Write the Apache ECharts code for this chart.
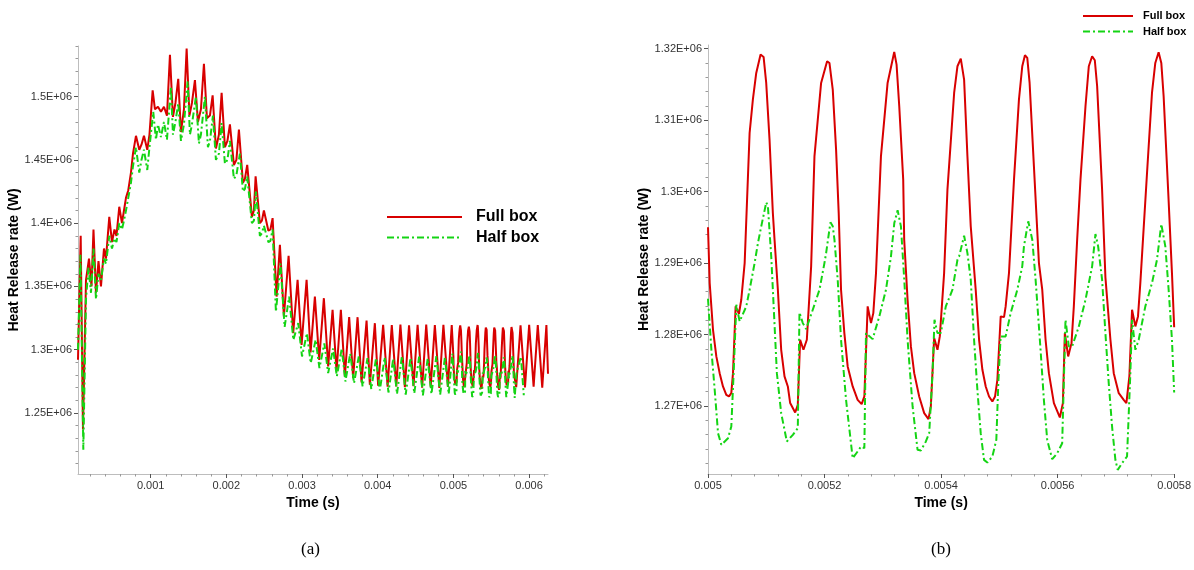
<!DOCTYPE html>
<html><head><meta charset="utf-8">
<script src="https://cdn.jsdelivr.net/npm/echarts@6/dist/echarts.min.js"></script>
<style>html,body{margin:0;padding:0;background:#fff}#c{width:1194px;height:570px}</style>
</head><body><div id="c"></div>
<script>
// ---------- DATA ----------
// Panel (a) early part, t < 0.005 s
const tA_full = [0.0000399,0.0000755,0.0001059,0.0001455,0.0001852,0.0002182,0.0002446,0.0002776,0.0003106,0.0003436,0.0003833,0.0004097,0.0004533,0.0004889,0.0005219,0.0005483,0.0005853,0.000621,0.0006474,0.0006738,0.0007042,0.0007398,0.0007663,0.0008059,0.0008495,0.0008785,0.0009115,0.0009551,0.0009842,0.0010264,0.0010568,0.0010964,0.001136,0.0011757,0.0012153,0.0012549,0.0012945,0.0013275,0.0013645,0.0014002,0.0014398,0.0014754,0.0015124,0.0015454,0.001585,0.0016247,0.0016643,0.0017039,0.0017435,0.0017832,0.0018188,0.0018624,0.001902,0.0019377,0.0019813,0.0020143,0.0020473,0.0021001,0.0021331,0.0021662,0.002219,0.0022454,0.0022758,0.0023378,0.0023642,0.0023867,0.0024435,0.0024699,0.0024963,0.0025557,0.0025822,0.0026112,0.002664,0.0027077,0.0027604,0.0028225,0.0028833,0.0029414,0.0029942,0.0030603,0.0031131,0.0031699,0.0032267,0.0032886,0.0033455,0.0034036,0.0034564,0.0035132,0.0035661,0.0036229,0.0036757,0.0037338,0.0037866,0.0038527,0.0038962,0.0039623,0.0040058,0.0040718,0.004131,0.004186,0.004245,0.0043,0.004359,0.004414,0.004473,0.004527,0.004587,0.004641,0.0047,0.004755,0.004814,0.004868,0.004928,0.004978];
const hA_full = [1292000,1390000,1237000,1355000,1372000,1350000,1395000,1345000,1370000,1350000,1380000,1372000,1405000,1385000,1395000,1390000,1413000,1400000,1410000,1420000,1426000,1440000,1455000,1469000,1458000,1462000,1469000,1458000,1470000,1505000,1490000,1492000,1488000,1492000,1485000,1533000,1484000,1495000,1514000,1472000,1490000,1538000,1485000,1495000,1513000,1480000,1490000,1526000,1483000,1485000,1501000,1459000,1470000,1503000,1460000,1465000,1478000,1446000,1450000,1474000,1432000,1435000,1446000,1405000,1410000,1437000,1400000,1402000,1410000,1394000,1395000,1404000,1342000,1382850,1326240,1374160,1313080,1355200,1303860,1355200,1297800,1342040,1292000,1340720,1286750,1331500,1282800,1331500,1278850,1325710,1277530,1325710,1274110,1323080,1272270,1320970,1271480,1319660,1270800,1319500,1271000,1319800,1270500,1319300,1271200,1319600,1270000,1319800,1270800,1319400,1269800,1319700,1270600,1319500];
const tA_half = [0.0000399,0.0000725,0.0001103,0.0001455,0.0001786,0.0002116,0.0002446,0.0002776,0.0003106,0.0003436,0.0003833,0.0004097,0.0004533,0.0004889,0.0005219,0.0005483,0.0005853,0.000621,0.0006474,0.0006738,0.0007042,0.0007398,0.0007663,0.0008059,0.0008495,0.0008785,0.0009115,0.0009551,0.0009842,0.0010343,0.00107,0.0010964,0.001136,0.0011757,0.0012153,0.0012681,0.0012945,0.0013275,0.0013645,0.0014002,0.0014398,0.0014886,0.001519,0.0015454,0.0015982,0.0016379,0.0016643,0.0017171,0.0017567,0.0017832,0.0018228,0.0018624,0.001902,0.0019377,0.0019813,0.0020143,0.0020473,0.0021001,0.0021331,0.0021794,0.002219,0.0022454,0.0022758,0.0023378,0.0023642,0.0023906,0.0024435,0.0024699,0.0024963,0.0025557,0.0025822,0.0026112,0.002655,0.002715,0.00277,0.00283,0.002885,0.00295,0.003,0.003065,0.003115,0.00318,0.00323,0.003295,0.003345,0.00341,0.00346,0.003525,0.003573,0.003637,0.003687,0.00375,0.0038,0.003865,0.003915,0.003978,0.004028,0.004092,0.004142,0.004205,0.004255,0.00432,0.00437,0.004433,0.004483,0.004547,0.004597,0.00466,0.00471,0.004775,0.004825,0.004888,0.004938,0.004986];
const hA_half = [1300000,1375000,1221000,1340000,1365000,1345000,1380000,1340000,1360000,1355000,1372000,1368000,1390000,1380000,1388000,1385000,1400000,1395000,1402000,1410000,1420000,1432000,1445000,1460000,1440000,1450000,1458000,1442000,1460000,1488000,1466000,1478000,1468000,1480000,1466000,1508000,1470000,1480000,1495000,1465000,1478000,1512000,1470000,1478000,1500000,1463000,1470000,1500000,1460000,1465000,1485000,1450000,1455000,1479000,1447000,1450000,1465000,1435000,1438000,1455000,1425000,1427000,1437000,1400000,1402000,1425000,1390000,1392000,1398000,1385000,1386000,1395000,1330000,1368000,1318000,1342000,1307800,1321000,1294700,1313000,1289400,1307800,1285500,1305000,1281500,1301000,1278900,1301000,1274900,1297000,1273600,1294700,1271000,1293400,1268900,1293400,1267800,1294000,1266200,1293000,1265000,1295000,1264500,1293500,1265500,1294500,1264000,1293000,1265000,1295000,1264500,1294000,1265000,1297000];

// Window 0.005 .. 0.0058 s (panel b, also part of panel a)
const tB_full = [
0.005,0.0050029,0.0050086,0.0050143,0.00502,0.0050257,0.0050314,0.005036,0.00504,0.0050429,0.0050474,0.0050531,0.0050571,0.0050629,
0.0050714,0.005077,0.0050828,0.0050902,0.0050954,0.0050999,0.0051056,0.0051113,0.0051142,0.0051199,0.0051256,0.0051313,0.005137,0.005141,0.0051496,0.0051541,0.0051581,0.0051638,0.0051696,0.005177,
0.0051827,0.0051941,0.0052044,0.0052084,0.0052141,0.0052198,0.0052243,0.0052283,0.005234,0.0052397,0.0052483,0.0052568,0.0052637,0.0052683,0.005274,0.0052797,0.0052837,0.0052883,
0.0052968,0.0053082,0.0053196,0.0053236,0.0053282,0.005335,0.0053367,0.0053425,0.0053482,0.0053539,0.0053624,0.005371,0.0053784,0.0053824,0.0053881,0.0053938,0.0053978,0.0054052,
0.0054109,0.0054224,0.0054281,0.0054338,0.0054395,0.0054452,0.0054509,0.0054594,0.0054652,0.0054709,0.0054766,0.0054823,0.005488,0.0054926,0.0054966,0.0055023,0.005508,0.0055108,0.0055165,
0.0055251,0.0055336,0.0055393,0.0055439,0.0055479,0.0055519,0.0055593,0.0055679,0.0055736,0.0055793,0.005585,0.0055936,0.0056038,0.005609,0.0056124,0.0056181,0.0056238,0.0056278,0.0056335,
0.0056392,0.0056478,0.0056535,0.0056592,0.0056638,0.0056678,0.0056763,0.005682,0.0056906,0.0056963,0.0057049,0.0057134,0.005718,0.0057231,0.0057277,0.0057334,0.0057379,0.0057419,
0.0057534,0.0057619,0.0057676,0.0057733,0.0057779,0.0057819,0.0057904,0.0057962,0.0058];
const hB_full = [
1295000,1287190,1280660,1276930,1274590,1272730,1271560,1271330,1271790,1274590,1283930,1282900,1284860,1289990,
1308190,1312860,1316590,1319160,1318830,1315190,1307260,1296990,1293260,1286260,1277860,1274130,1272730,1270400,1269090,1270160,1279260,1277860,1279260,1289530,
1304930,1315190,1318230,1317990,1314260,1305860,1296990,1286260,1280190,1275530,1272730,1270860,1270250,1271330,1283930,1281590,1282990,1288590,
1304930,1315190,1319530,1317760,1311930,1301660,1293260,1284860,1278330,1274590,1271330,1269000,1268150,1269930,1279490,1277860,1279730,1288590,
1300260,1313790,1317530,1318600,1315660,1304930,1295130,1286260,1279260,1275060,1272730,1271330,1270630,1271330,1273660,1282530,1282430,1283930,1288590,
1301660,1312860,1317530,1319070,1318690,1315190,1303530,1290000,1286260,1279260,1274590,1270400,1268390,1270400,1280190,1276930,1278790,1283930,1293260,
1301660,1311930,1317530,1318930,1318370,1314730,1300260,1288000,1279260,1274590,1271790,1270860,1270400,1274130,1283460,1281130,1282530,1287190,
1302590,1313790,1317990,1319490,1317990,1313330,1298860,1288590,1281000];
const tB_half = [
0.005,0.0050058,0.0050115,0.0050172,0.0050229,0.0050343,0.00504,0.005044,0.0050486,0.0050543,0.0050657,0.0050714,0.00508,0.0050857,
0.0050914,0.0051,0.0051028,0.0051085,0.0051113,0.0051182,0.0051256,0.0051353,0.0051456,0.0051541,0.005157,0.0051627,0.0051684,0.0051798,0.0051913,0.0051998,
0.0052027,0.0052101,0.0052141,0.005217,0.0052226,0.0052283,0.0052369,0.0052483,0.0052568,0.0052626,0.0052683,0.0052711,0.0052825,0.005294,0.0053054,0.005314,
0.0053197,0.0053254,0.0053311,0.0053368,0.0053425,0.0053511,0.0053596,0.0053653,0.0053739,0.0053796,0.0053853,0.0053887,0.0053938,0.0053995,0.0054081,0.0054195,0.0054281,
0.005431,0.0054395,0.0054452,0.0054509,0.0054566,0.0054623,0.005468,0.0054737,0.0054794,0.005488,0.0054948,0.0054982,0.0055022,0.0055108,0.0055194,0.0055308,0.0055393,
0.0055422,0.0055496,0.0055565,0.0055622,0.0055707,0.0055764,0.0055821,0.0055907,0.0055993,0.0056078,0.0056135,0.0056192,0.0056249,0.0056364,0.0056478,0.0056592,
0.0056649,0.0056695,0.0056763,0.005682,0.0056877,0.0056934,0.0056991,0.0057031,0.0057105,0.0057191,0.0057248,0.0057277,0.0057334,0.0057391,0.0057505,0.0057619,0.0057705,
0.0057779,0.0057848,0.0057905,0.0057962,0.0058];
const hB_half = [
1285000,1277860,1272260,1266190,1264560,1265490,1267130,1274590,1284160,1281830,1283930,1286260,1289990,1292790,
1295130,1298490,1297930,1290930,1286260,1274590,1268990,1265030,1265960,1266890,1283090,1281590,1280750,1283460,1286260,1289990,
1291390,1295690,1295130,1293260,1287660,1279260,1270860,1262690,1263630,1264330,1264090,1280190,1279350,1282530,1286260,1290930,
1295590,1297370,1295130,1287660,1279260,1269930,1263860,1263770,1265030,1266190,1274590,1282060,1280190,1280190,1283930,1286260,1290460,
1290930,1293820,1291390,1287660,1279260,1272260,1266190,1262460,1262090,1262930,1265260,1273190,1279730,1279730,1282990,1286260,1289530,
1292330,1295830,1293260,1287660,1277860,1270860,1265260,1262550,1263390,1264790,1282060,1278330,1278330,1281130,1284860,1289530,
1294050,1292330,1287660,1280190,1273190,1267130,1262460,1261060,1261990,1262930,1274590,1282060,1277860,1279260,1283930,1287190,1290460,
1295450,1292330,1286260,1279260,1271890];

// Panel (a) late part, t > 0.0058 s
const tC_full = [0.00583,0.005887,0.005946,0.006001,0.00606,0.006115,0.006174,0.006229,0.00625];
const hC_full = [1270500,1319300,1270200,1319600,1270800,1319400,1270000,1319500,1281000];
const tC_half = [0.00581,0.005832,0.005892,0.00593];
const hC_half = [1262000,1281000,1294500,1264000];

// Tick labels
const xTicksA = [0.001,0.002,0.003,0.004,0.005,0.006];
const yTicksA = [1250000,1300000,1350000,1400000,1450000,1500000];
const xTicksB = [0.005,0.0052,0.0054,0.0056,0.0058];
const yTicksB = [1270000,1280000,1290000,1300000,1310000,1320000];
const seriesNames = ['Full box','Half box'];

// ---------- BUILD ----------
function zip(t,h){return t.map((v,i)=>[v,h[i]]);}
const dataA_full = zip(tA_full.concat(tB_full,tC_full), hA_full.concat(hB_full,hC_full));
const dataA_half = zip(tA_half.concat(tB_half,tC_half), hA_half.concat(hB_half,hC_half));
const dataB_full = zip(tB_full,hB_full);
const dataB_half = zip(tB_half,hB_half);

function minors(min,max,step,majors){
  const out=[]; const s=Math.ceil(min/step-1e-9);
  for(let k=s;k*step<=max+1e-12;k++){const v=+(k*step).toPrecision(10);
    if(!majors.some(m=>Math.abs(m-v)<step*1e-3)) out.push(v);} return out;}

const RED='#d80000', GREEN='#14d414';
const FONT='"Liberation Sans", Arial, Helvetica, sans-serif';
const lblStyle={fontFamily:FONT,fontSize:11,color:'#333'};
const nameStyle={fontFamily:FONT,fontSize:14,fontWeight:'bold',color:'#000'};
const axisLineStyle={onZero:false,lineStyle:{color:'#bdbdbd',width:1}};
const fmtY=v=>String(parseFloat((v/1e6).toFixed(4)))+'E+06';
const fmtX=v=>String(parseFloat(v.toFixed(6)));

const A={xmin:0.00004,xmax:0.00625,ymin:1201800,ymax:1540000};
const B={xmin:0.005,xmax:0.0058,ymin:1260480,ymax:1320500};

function mainX(grid,r,ticks,name){return {type:'value',gridIndex:grid,position:'bottom',min:r.xmin,max:r.xmax,
  axisLine:axisLineStyle,splitLine:{show:false},
  axisTick:{customValues:ticks,length:4,lineStyle:{color:'#555'}},
  axisLabel:{customValues:ticks,formatter:fmtX,margin:6,...lblStyle},
  name:name,nameLocation:'middle',nameGap:21,nameTextStyle:nameStyle};}
function mainY(grid,r,ticks,gap){return {type:'value',gridIndex:grid,position:'left',min:r.ymin,max:r.ymax,
  axisLine:axisLineStyle,splitLine:{show:false},
  axisTick:{customValues:ticks,length:4,lineStyle:{color:'#555'}},
  axisLabel:{customValues:ticks,formatter:fmtY,margin:6,...lblStyle},
  name:'Heat Release rate (W)',nameLocation:'middle',nameGap:gap,nameTextStyle:nameStyle};}
function minorX(grid,r,vals){return {type:'value',gridIndex:grid,position:'bottom',min:r.xmin,max:r.xmax,
  axisLine:{show:false,onZero:false},splitLine:{show:false},axisLabel:{show:false},
  axisTick:{customValues:vals,length:2.5,lineStyle:{color:'#999'}}};}
function minorY(grid,r,vals){return {type:'value',gridIndex:grid,position:'left',min:r.ymin,max:r.ymax,
  axisLine:{show:false,onZero:false},splitLine:{show:false},axisLabel:{show:false},
  axisTick:{customValues:vals,length:2.5,lineStyle:{color:'#999'}}};}

const lineFull={color:RED,width:2};
const lineHalf={color:GREEN,width:2,type:[7,3,2,3]};

function legendGraphics(x0,len,y1,y2,tx,fs){
  return [
    {type:'line',shape:{x1:x0,y1:y1,x2:x0+len,y2:y1},style:{stroke:RED,lineWidth:2}},
    {type:'line',shape:{x1:x0,y1:y2,x2:x0+len,y2:y2},style:{stroke:GREEN,lineWidth:2,lineDash:[7,3,2,3]}},
    {type:'text',x:tx,y:y1,style:{text:seriesNames[0],font:'bold '+fs+'px '+FONT,fill:'#000',textVerticalAlign:'middle',verticalAlign:'middle'}},
    {type:'text',x:tx,y:y2,style:{text:seriesNames[1],font:'bold '+fs+'px '+FONT,fill:'#000',textVerticalAlign:'middle',verticalAlign:'middle'}}
  ];
}

const option={
  animation:false,
  backgroundColor:'#fff',
  grid:[{left:78,top:46,width:470,height:428},{left:708,top:45,width:468,height:429}],
  xAxis:[mainX(0,A,xTicksA,'Time (s)'),minorX(0,A,minors(A.xmin,A.xmax,0.0002,xTicksA)),
         mainX(1,B,xTicksB,'Time (s)'),minorX(1,B,minors(B.xmin,B.xmax,0.00004,xTicksB))],
  yAxis:[mainY(0,A,yTicksA,51),minorY(0,A,minors(A.ymin,A.ymax,10000,yTicksA)),
         mainY(1,B,yTicksB,53),minorY(1,B,minors(B.ymin,B.ymax,2000,yTicksB))],
  series:[
    {name:'Full box',type:'line',xAxisIndex:0,yAxisIndex:0,data:dataA_full,showSymbol:false,symbol:'none',lineStyle:lineFull,itemStyle:{color:RED}},
    {name:'Half box',type:'line',xAxisIndex:0,yAxisIndex:0,data:dataA_half,showSymbol:false,symbol:'none',lineStyle:lineHalf,itemStyle:{color:GREEN}},
    {name:'Full box',type:'line',xAxisIndex:2,yAxisIndex:2,data:dataB_full,showSymbol:false,symbol:'none',lineStyle:lineFull,itemStyle:{color:RED}},
    {name:'Half box',type:'line',xAxisIndex:2,yAxisIndex:2,data:dataB_half,showSymbol:false,symbol:'none',lineStyle:lineHalf,itemStyle:{color:GREEN}}
  ],
  graphic:[
    ...legendGraphics(387,75,217,237.5,476,16),
    ...legendGraphics(1083,50,16,31.5,1143,11),
    {type:'text',left:301,top:541,style:{text:'(a)',font:'17px "Liberation Serif", "Times New Roman", serif',fill:'#000'}},
    {type:'text',left:931,top:541,style:{text:'(b)',font:'17px "Liberation Serif", "Times New Roman", serif',fill:'#000'}}
  ]
};
const chart=echarts.init(document.getElementById('c'),null,{renderer:'canvas'});
chart.setOption(option);
</script></body></html>
